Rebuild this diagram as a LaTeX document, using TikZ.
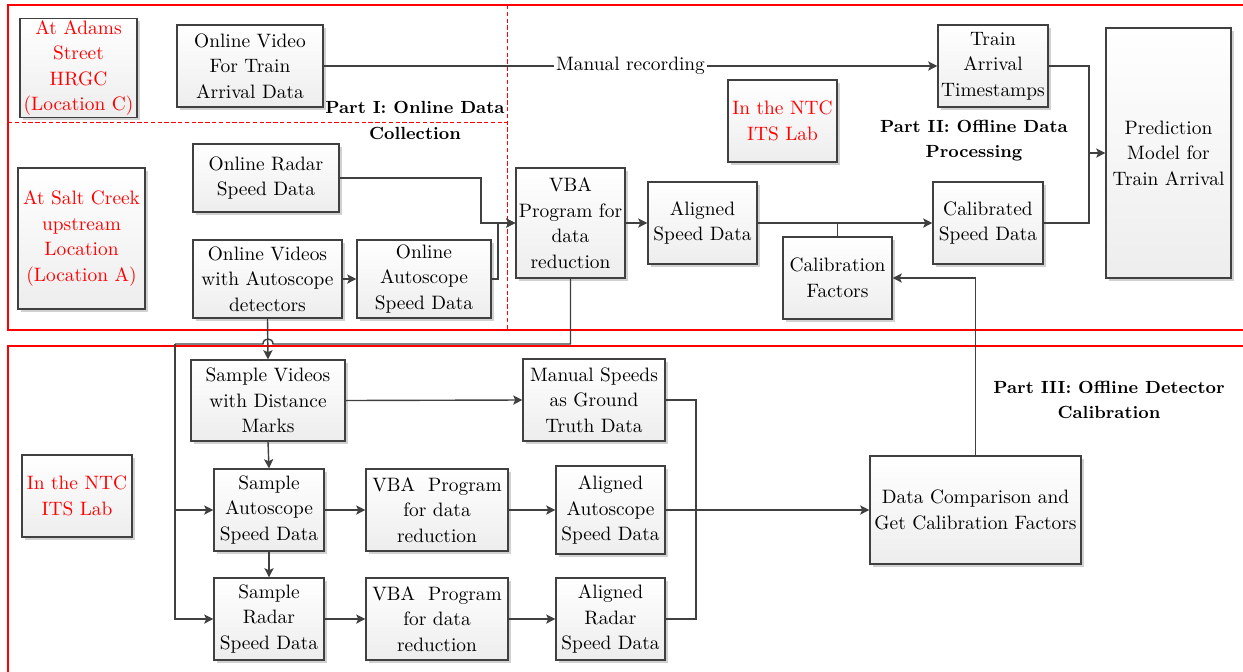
\documentclass[tikz,border=0pt]{standalone}
\usepackage{fontspec}
\newfontfamily\tnr{Latin Modern Roman}
\usetikzlibrary{arrows.meta,shadows}
\definecolor{ln}{HTML}{404040}
\tikzset{
  x=0.5pt,y=-0.5pt,
  box/.style={draw=ln,line width=0.6pt,top color=white,bottom color=gray!14,
    drop shadow={shadow xshift=1.3pt,shadow yshift=-1.3pt,fill=gray!45,opacity=0.8},
    align=center,inner sep=1pt,font=\tnr\fontsize{9.7}{12.75}\selectfont},
  redtxt/.style={text=red},
  conn/.style={draw=ln,line width=0.7pt},
  arr/.style={conn,-{Stealth[length=4.6pt,width=4.6pt,inset=1pt]}},
  part/.style={align=center,font=\tnr\fontsize{8.8}{12.6}\selectfont\bfseries},
  frame/.style={draw=red,line width=0.55pt},
  dframe/.style={draw=red,line width=0.4pt,dash pattern=on 2.2pt off 1.2pt},
}
\begin{document}
\begin{tikzpicture}
\useasboundingbox (0,0) rectangle (1243,671);
% frames
\draw[frame] (1250,5) -- (8,5) -- (8,330) -- (1250,330);
\draw[dframe] (507,5) -- (507,330);
\draw[dframe] (8,122) -- (507,122);
\draw[frame] (1250,346) -- (8,346) -- (8,680);
% boxes
\node[box,redtxt,minimum width=58.5pt,minimum height=48pt] (adams) at (78.5,68) {At Adams\\Street\\HRGC\\(Location C)};
\node[box,minimum width=73pt,minimum height=41pt] (ovideo) at (250,66) {Online Video\\For Train\\Arrival Data};
\node[part] (p1) at (415,120.5) {Part I: Online Data\\Collection};
\node[box,redtxt,minimum width=63.5pt,minimum height=70.5pt] (salt) at (81.5,238.5) {At Salt Creek\\upstream\\Location\\(Location A)};
\node[box,minimum width=73pt,minimum height=34pt] (radar) at (266,178) {Online Radar\\Speed Data};
\node[box,minimum width=74.5pt,minimum height=39pt] (ovids) at (267.5,279) {Online Videos\\with Autoscope\\detectors};
\node[box,minimum width=67pt,minimum height=39pt] (oauto) at (424,279) {Online\\Autoscope\\Speed Data};
\node[box,minimum width=54.5pt,minimum height=55pt] (vba) at (570.5,223) {VBA\\Program for\\data\\reduction};
\node[box,minimum width=54.5pt,minimum height=41pt] (aligned) at (702.5,223) {Aligned\\Speed Data};
\node[box,redtxt,minimum width=54.5pt,minimum height=41pt] (ntc1) at (782.5,121) {In the NTC\\ITS Lab};
\node[box,minimum width=55pt,minimum height=41pt] (train) at (993,66) {Train\\Arrival\\Timestamps};
\node[part] (p2) at (974,140.5) {Part II: Offline Data\\Processing};
\node[box,minimum width=55pt,minimum height=41pt] (calib) at (988,223) {Calibrated\\Speed Data};
\node[box,minimum width=54.5pt,minimum height=41pt] (cfac) at (837.5,278) {Calibration\\Factors};
\node[box,minimum width=62.5pt,minimum height=125pt] (pred) at (1168.5,153) {Prediction\\Model for\\Train Arrival};
\node[box,minimum width=77pt,minimum height=40.5pt] (svid) at (268,400.5) {Sample Videos\\with Distance\\Marks};
\node[box,minimum width=71pt,minimum height=41pt] (manual) at (594,400) {Manual Speeds\\as Ground\\Truth Data};
\node[box,minimum width=55pt,minimum height=41pt] (sauto) at (269,510) {Sample\\Autoscope\\Speed Data};
\node[box,minimum width=71pt,minimum height=41pt] (vba1) at (437,510) {VBA~~Program\\for data\\reduction};
\node[box,minimum width=54.5pt,minimum height=44pt] (aauto) at (610.5,510) {Aligned\\Autoscope\\Speed Data};
\node[box,minimum width=55pt,minimum height=41pt] (sradar) at (269,619) {Sample\\Radar\\Speed Data};
\node[box,minimum width=71pt,minimum height=41pt] (vba2) at (437,619) {VBA~~Program\\for data\\reduction};
\node[box,minimum width=54.5pt,minimum height=41pt] (aradar) at (610.5,619) {Aligned\\Radar\\Speed Data};
\node[box,redtxt,minimum width=55pt,minimum height=41pt] (ntc2) at (77,496) {In the NTC\\ITS Lab};
\node[box,minimum width=105.5pt,minimum height=54pt] (comp) at (975.5,510) {Data Comparison and\\Get Calibration Factors};
\node[part] (p3) at (1109,400) {Part III: Offline Detector\\Calibration};
% coordinates
\coordinate (j1) at (481,223);
\coordinate (j2) at (498,223);
\coordinate (j3) at (1089,153);
\coordinate (j4) at (696,400);
\coordinate (h1) at (175,344);
% connectors
\draw[arr] (ovideo.east) -- node[fill=white,inner sep=1pt,font=\tnr\fontsize{9.7}{12.75}\selectfont,pos=0.5] (mr) {Manual recording} (train.west);
\draw[arr] (radar.east) -| (j1) -- (vba.west);
\draw[arr] (oauto.east) -| (j2) -- (vba.west);
\draw[arr] (ovids.east) -- (oauto.west);
\draw[arr] (vba.east) -- (aligned.west);
\draw[arr] (aligned.east) -- (calib.west);
\draw[conn] (cfac.north) -- (cfac.north |- aligned.east);
\draw[arr] (train.east) -| (j3) -- (pred.west);
\draw[conn] (calib.east) -| (j3);
\draw[arr] (comp.north) |- (cfac.east);
\draw[conn] (vba.south) |- (273,344) .. controls (273,337.3) and (263,337.3) .. (263,344) -- (h1);
\draw[arr] (h1) |- (sradar.west);
\draw[arr] (h1 |- sauto.west) -- (sauto.west);
\draw[arr] (ovids.south) -- (svid.north);
\draw[arr] (svid.east) -- (manual.west);
\draw[arr] (svid.south) -- (sauto.north);
\draw[arr] (sauto.south) -- (sradar.north);
\draw[arr] (sauto.east) -- (vba1.west);
\draw[arr] (vba1.east) -- (aauto.west);
\draw[arr] (sradar.east) -- (vba2.west);
\draw[arr] (vba2.east) -- (aradar.west);
\draw[conn] (manual.east) -| (j4) |- (aradar.east);
\draw[arr] (aauto.east) -- (comp.west);
\end{tikzpicture}
\end{document}
